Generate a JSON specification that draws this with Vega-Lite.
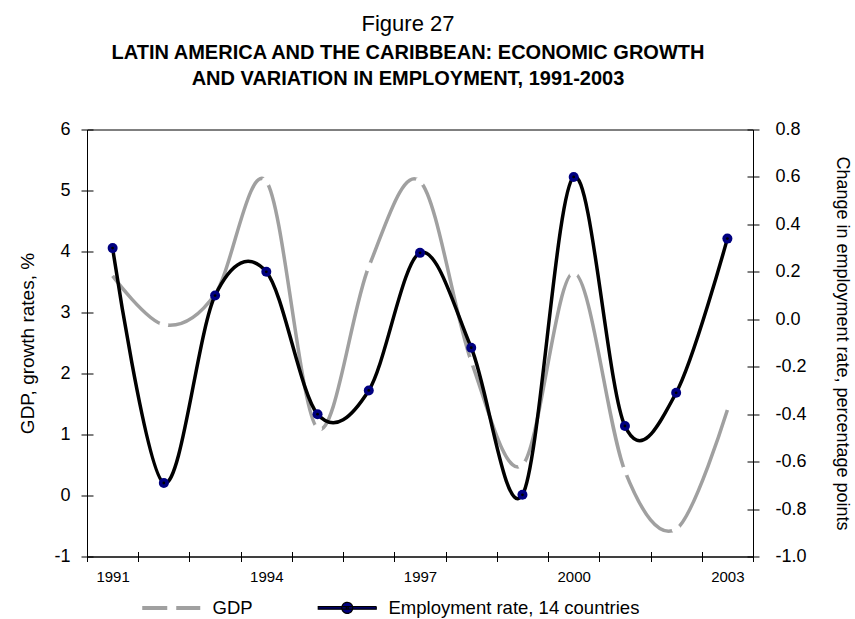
{
  "$schema": "https://vega.github.io/schema/vega-lite/v6.json",
  "width": 666,
  "height": 427,
  "autosize": {"type": "none"},
  "padding": {"left": 87, "top": 129.5, "right": 102, "bottom": 62.5},
  "background": "white",
  "config": {
    "font": "Liberation Sans",
    "view": {"stroke": "black", "strokeWidth": 1},
    "axis": {
      "domainColor": "black", "tickColor": "black", "labelColor": "black", "titleColor": "black",
      "grid": false, "titleFontWeight": "normal", "labelFont": "Liberation Sans", "titleFont": "Liberation Sans",
      "domainWidth": 1, "tickWidth": 1
    }
  },
  "title": {
    "text": "Figure 27",
    "subtitle": ["LATIN AMERICA AND THE CARIBBEAN: ECONOMIC GROWTH", "AND VARIATION IN EMPLOYMENT, 1991-2003"],
    "font": "Liberation Sans",
    "fontSize": 22,
    "fontWeight": "normal",
    "color": "black",
    "subtitleFont": "Liberation Sans",
    "subtitleFontSize": 20,
    "subtitleFontWeight": "bold",
    "subtitleColor": "black",
    "subtitleLineHeight": 26,
    "subtitlePadding": 7,
    "anchor": "middle",
    "frame": "group",
    "offset": 31,
    "dx": -12
  },
  "data": {
    "values": [
      {"year": 1991, "gdp": 3.6, "emp": 0.30},
      {"year": 1992, "gdp": 2.8, "emp": -0.69},
      {"year": 1993, "gdp": 3.3, "emp": 0.10},
      {"year": 1994, "gdp": 5.15, "emp": 0.20},
      {"year": 1995, "gdp": 1.1, "emp": -0.40},
      {"year": 1996, "gdp": 3.75, "emp": -0.30},
      {"year": 1997, "gdp": 5.15, "emp": 0.28},
      {"year": 1998, "gdp": 2.2, "emp": -0.12},
      {"year": 1999, "gdp": 0.5, "emp": -0.74},
      {"year": 2000, "gdp": 3.65, "emp": 0.60},
      {"year": 2001, "gdp": 0.4, "emp": -0.45},
      {"year": 2002, "gdp": -0.55, "emp": -0.31},
      {"year": 2003, "gdp": 1.4, "emp": 0.34}
    ]
  },
  "layer": [
    {
      "encoding": {
        "x": {
          "field": "year",
          "type": "quantitative",
          "scale": {"domain": [1990.5, 2003.5], "nice": false, "zero": false},
          "axis": {
            "orient": "bottom",
            "title": null,
            "values": [1990.5, 1991.5, 1992.5, 1993.5, 1994.5, 1995.5, 1996.5, 1997.5, 1998.5, 1999.5, 2000.5, 2001.5, 2002.5, 2003.5],
            "labelExpr": "(datum.value - 1990.5) % 3 === 0 ? format(datum.value + 0.5, 'd') : ''",
            "labelOffset": 25.6,
            "labelFlush": false,
            "labelBound": false,
            "labelOverlap": false,
            "tickSize": 5,
            "labelFontSize": 15,
            "labelPadding": 8
          }
        }
      },
      "layer": [
        {
          "mark": {"type": "line", "interpolate": "cardinal", "strokeWidth": 3.5},
          "encoding": {
            "y": {
              "field": "gdp",
              "type": "quantitative",
              "scale": {"domain": [-1, 6], "nice": false, "zero": false},
              "axis": {
                "orient": "left",
                "title": "GDP, growth rates, %",
                "values": [-1, 0, 1, 2, 3, 4, 5, 6],
                "labelExpr": "replace(format(datum.value, 'd'), '\u2212', '-')",
                "labelFontSize": 18,
                "tickSize": 6,
                "labelPadding": 11,
                "titleFontSize": 19,
                "titlePadding": 16
              }
            },
            "color": {
              "datum": "GDP",
              "type": "nominal",
              "scale": {"domain": ["GDP", "Employment rate, 14 countries"], "range": ["#a0a0a0", "#000000"]},
              "legend": {
                "orient": "none",
                "legendX": 75,
                "legendY": 469,
                "direction": "horizontal",
                "title": null,
                "labelFont": "Liberation Sans",
                "labelFontSize": 18.5,
                "labelColor": "black",
                "labelLimit": 400,
                "symbolType": "stroke",
                "symbolSize": 3364,
                "symbolStrokeWidth": 4,
                "labelOffset": 32,
                "columnPadding": 62,
                "encode": {
                  "symbols": {
                    "update": {
                      "shape": {"signal": "datum.value === 'GDP' ? 'M-1,0H1' : 'M-1,-0.045H1V0.045H-1Z M0.19,0A0.19,0.19 0 1,1 -0.19,0A0.19,0.19 0 1,1 0.19,0Z M0.035,0A0.035,0.035 0 1,1 -0.035,0A0.035,0.035 0 1,1 0.035,0Z'"},
                      "strokeDash": {"signal": "datum.value === 'GDP' ? [25, 9] : [1, 0]"},
                      "strokeWidth": {"signal": "datum.value === 'GDP' ? 4 : 1.2"},
                      "fill": {"signal": "datum.value === 'GDP' ? 'transparent' : '#000080'"},
                      "opacity": {"value": 1}
                    }
                  }
                }
              }
            }
          }
        },
        {
          "transform": [{"filter": "datum.year > 1991 && datum.year < 2003"}],
          "mark": {"type": "point", "filled": true, "color": "white", "size": 80, "opacity": 1, "shape": "circle"},
          "encoding": {
            "y": {
              "field": "gdp",
              "type": "quantitative",
              "scale": {"domain": [-1, 6], "nice": false, "zero": false},
              "axis": {
                "orient": "left",
                "title": null,
                "values": [-1, 0, 1, 2, 3, 4, 5, 6],
                "labels": false,
                "domain": false,
                "tickSize": -6
              }
            }
          }
        }
      ],
      "resolve": {"axis": {"y": "independent"}}
    },
    {
      "encoding": {
        "x": {
          "field": "year",
          "type": "quantitative",
          "scale": {"domain": [1990.5, 2003.5], "nice": false, "zero": false},
          "axis": {
            "orient": "bottom",
            "title": null,
            "values": [1990.5, 1991.5, 1992.5, 1993.5, 1994.5, 1995.5, 1996.5, 1997.5, 1998.5, 1999.5, 2000.5, 2001.5, 2002.5, 2003.5],
            "labels": false,
            "domain": false,
            "tickSize": -5
          }
        }
      },
      "layer": [
        {
          "mark": {"type": "line", "interpolate": "cardinal", "strokeWidth": 3.5},
          "encoding": {
            "y": {
              "field": "emp",
              "type": "quantitative",
              "scale": {"domain": [-1, 0.8], "nice": false, "zero": false},
              "axis": {
                "orient": "right",
                "title": "Change in employment rate, percentage points",
                "values": [-1, -0.8, -0.6, -0.4, -0.2, 0, 0.2, 0.4, 0.6, 0.8],
                "labelExpr": "replace(format(datum.value, '.1f'), '\u2212', '-')",
                "labelFontSize": 18,
                "tickSize": 6,
                "labelPadding": 16,
                "titleFontSize": 18,
                "titlePadding": 26
              }
            },
            "color": {"datum": "Employment rate, 14 countries", "type": "nominal"}
          }
        },
        {
          "mark": {"type": "point", "filled": true, "color": "#000080", "size": 100, "opacity": 1, "shape": "circle"},
          "encoding": {
            "y": {
              "field": "emp",
              "type": "quantitative",
              "scale": {"domain": [-1, 0.8], "nice": false, "zero": false},
              "axis": {
                "orient": "right",
                "title": null,
                "values": [-1, -0.8, -0.6, -0.4, -0.2, 0, 0.2, 0.4, 0.6, 0.8],
                "labels": false,
                "domain": false,
                "tickSize": -6
              }
            }
          }
        },
        {
          "mark": {"type": "point", "filled": true, "color": "#000000", "size": 8, "opacity": 1, "shape": "circle"},
          "encoding": {
            "y": {
              "field": "emp",
              "type": "quantitative",
              "scale": {"domain": [-1, 0.8], "nice": false, "zero": false},
              "axis": null
            }
          }
        }
      ],
      "resolve": {"axis": {"y": "independent"}}
    }
  ],
  "resolve": {"scale": {"y": "independent"}, "axis": {"x": "independent"}}
}
